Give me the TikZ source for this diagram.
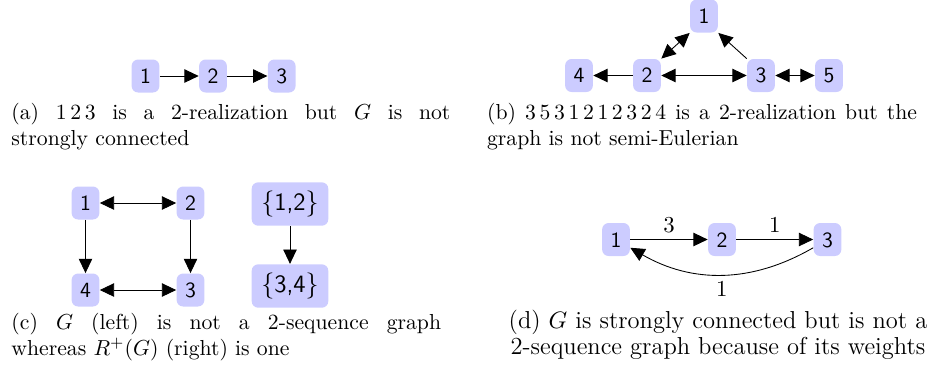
\documentclass[tikz,border=0pt]{standalone}
\usetikzlibrary{arrows.meta}
\begin{document}
\begin{tikzpicture}[x=0.4608pt, y=-0.4608pt,
  >={Triangle[length=6.6pt,width=6.2pt]},
  vtx/.style={rectangle, rounded corners=3pt, fill=blue!20, font=\sffamily, inner xsep=3.9pt, inner ysep=4.15pt, text height=6.9pt, text depth=0pt},
  setv/.style={rectangle, rounded corners=3pt, fill=blue!20, font=\fontsize{11.5}{13}\selectfont\sffamily, inner sep=4pt, minimum width=35.3pt, minimum height=19.2pt},
  capt/.style={inner sep=0pt, anchor=north west, align=left, font=\fontsize{10}{11.8}\selectfont},
  elab/.style={inner sep=3pt, font=\fontsize{10.5}{12}\selectfont}
]
\useasboundingbox (0,0) rectangle (933,374);

% (a)
\node[vtx] (a1) at (145.5,76) {1};
\node[vtx] (a2) at (213,76) {2};
\node[vtx] (a3) at (281.7,76) {3};
\draw[->] (a1) -- (a2);
\draw[->] (a2) -- (a3);
\node[capt] (capa) at (11,103) {\makebox[202.3pt][s]{(a) $1\,2\,3$ is a 2-realization but $G$ is not}\\strongly connected};

% (b)
\node[vtx] (b1) at (704,16) {1};
\node[vtx] (b4) at (579,75.5) {4};
\node[vtx] (b2) at (647,75.5) {2};
\node[vtx] (b3) at (761,75.5) {3};
\node[vtx] (b5) at (829,75.5) {5};
\draw[->] (b2) -- (b4);
\draw[<->] (b2) -- (b3);
\draw[<->] (b2.north east) -- (b1.south west);
\draw[->] (b3.north west) -- (b1.south east);
\draw[<->] (b3) -- (b5);
\node[capt] (capb) at (486.7,103) {\makebox[198.1pt][s]{(b) $3\,5\,3\,1\,2\,1\,2\,3\,2\,4$ is a 2-realization but the}\\graph is not semi-Eulerian};

% (c)
\node[vtx] (c1) at (85.5,203) {1};
\node[vtx] (c2) at (190.5,203) {2};
\node[vtx] (c4) at (85.5,290) {4};
\node[vtx] (c3) at (190.5,290) {3};
\draw[<->] (c1) -- (c2);
\draw[->] (c1) -- (c4);
\draw[->] (c2) -- (c3);
\draw[<->] (c4) -- (c3);
\node[setv] (s12) at (290,204) {$\{$1,2$\}$};
\node[setv] (s34) at (290,286) {$\{$3,4$\}$};
\draw[->] (s12) -- (s34);
\node[capt] (capc) at (11,313) {\makebox[198pt][s]{(c) $G$ (left) is not a 2-sequence graph}\\whereas $R^+(G)$ (right) is one};

% (d)
\node[vtx] (d1) at (616,239.5) {1};
\node[vtx] (d2) at (722,239.5) {2};
\node[vtx] (d3) at (827.5,239.5) {3};
\draw[->] (d1) -- node[elab, above] {3} (d2);
\draw[->] (d2) -- node[elab, above] {1} (d3);
\draw[->] (d3) to[bend left=30] node[elab, below] {1} (d1);
\node[inner sep=0pt, anchor=north, align=center, font=\fontsize{11.3}{11.8}\selectfont] (capd) at (718,310) {(d) $G$ is strongly connected but is not a\\2-sequence graph because of its weights};
\end{tikzpicture}
\end{document}
